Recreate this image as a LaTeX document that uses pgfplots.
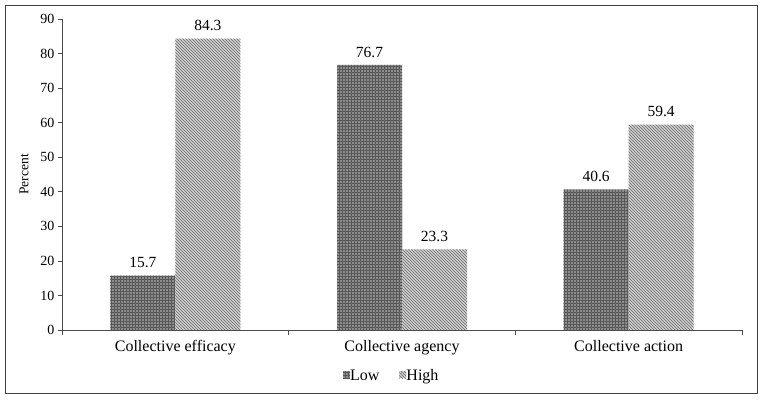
\documentclass[border=0pt]{standalone}
\usepackage{pgfplots}
\pgfplotsset{compat=1.18}
\usepackage{fontspec}
\setmainfont{Liberation Serif}
\usetikzlibrary{patterns}
\begin{document}
\begin{tikzpicture}
\begin{axis}[
  name=ax,
  at={(0pt,0pt)}, anchor=south west,
  scale only axis, width=680pt, height=311pt,
  ymin=0, ymax=90, ytick={0,10,...,90},
  xmin=-0.5, xmax=2.5,
  xtick={0,1,2},
  xticklabels={Collective efficacy, Collective agency, Collective action},
  minor xtick={-0.5,0.5,1.5,2.5},
  major x tick style={draw=none},
  minor tick length=5pt,
  major tick length=4pt,
  tick align=outside,
  axis x line*=bottom, axis y line*=left,
  axis line style={black!70, line width=0.6pt},
  tick style={black!70, line width=0.6pt},
  yticklabel style={font=\fontsize{14}{16}\selectfont},
  xticklabel style={font=\fontsize{16}{18}\selectfont, yshift=-3pt},
  /pgf/number format/assume math mode=true,
  ylabel={Percent},
  ylabel style={font=\fontsize{13.5}{15}\selectfont, yshift=5pt},
  ybar=0pt, bar width=65pt,
  nodes near coords,
  every node near coord/.append style={font=\fontsize{15.5}{17}\selectfont, /pgf/number format/fixed, /pgf/number format/precision=1, /pgf/number format/fixed zerofill, yshift=4pt},
  legend style={at={(axis description cs:0.485,-0.148)}, anchor=center, draw=none, legend columns=2, font=\fontsize{16}{18}\selectfont, /tikz/every even column/.append style={column sep=18pt}, /tikz/every odd column/.append style={column sep=-2pt}},
  legend image code/.code={\draw[#1, draw=none] (0pt,-2pt) rectangle (7pt,5pt);},
]
\addplot[draw=none, fill=black!45, postaction={pattern=grid, pattern color=black!65}] coordinates {(0,15.7) (1,76.7) (2,40.6)};
\addplot[draw=none, fill=black!18, postaction={pattern=north west lines, pattern color=black!60}] coordinates {(0,84.3) (1,23.3) (2,59.4)};
\legend{Low, High}
\end{axis}
\draw[black!75, line width=0.8pt] ([xshift=-57pt,yshift=-63pt]ax.south west) rectangle ([xshift=15pt,yshift=14pt]ax.north east);
\pgfresetboundingbox
\path ([xshift=-62pt,yshift=-72pt]ax.south west) rectangle ([xshift=20pt,yshift=19pt]ax.north east);
\end{tikzpicture}
\end{document}
